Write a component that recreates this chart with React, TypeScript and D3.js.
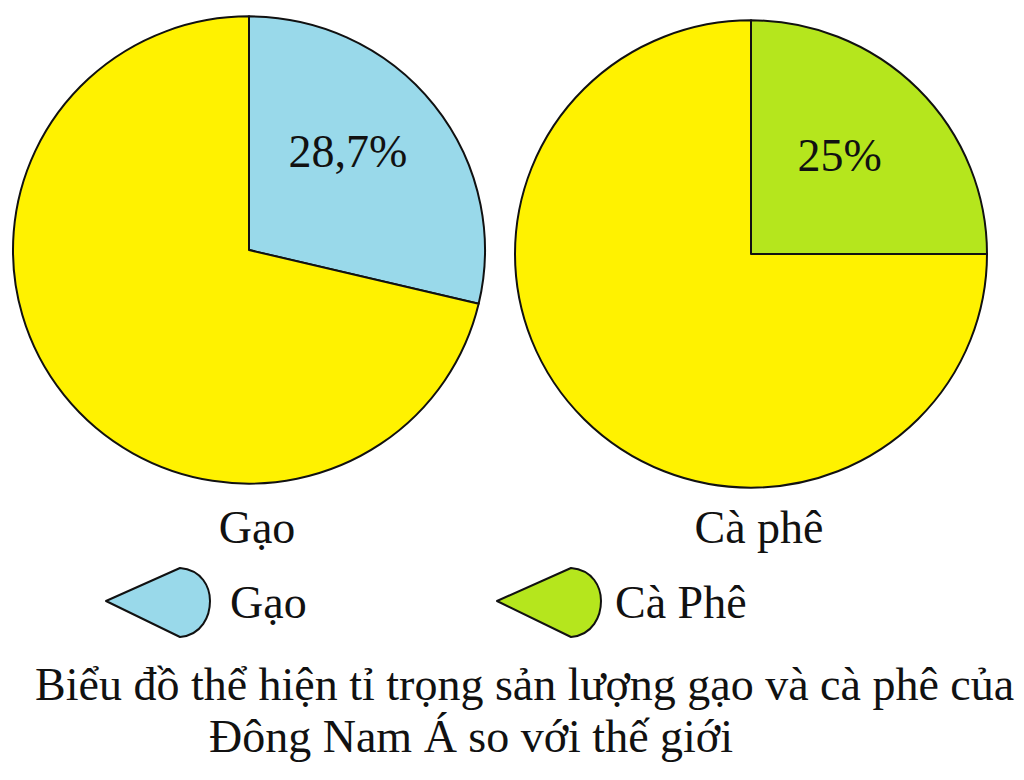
import React from "react";
import * as d3 from "d3";

// ---- data ----
const pieNames = ["Gạo", "Cà phê"];
const shares = [28.7, 25];
const shareLabels = ["28,7%", "25%"];
const legendNames = ["Gạo", "Cà Phê"];
const sliceColors = ["#99D9EA", "#B5E61D"];
const restColor = "#FFF200";
const titleLines = [
  "Biểu đồ thể hiện tỉ trọng sản lượng gạo và cà phê của",
  "Đông Nam Á so với thế giới",
];

const W = 1024;
const H = 780;
const FONT = "'Liberation Serif', 'Times New Roman', serif";

const pieCenters: [number, number][] = [
  [249, 251],
  [751, 255],
];
const R = 236;

const pieGen = d3.pie<number>().sort(null).value((d) => d);
const arcGen = d3.arc<d3.PieArcDatum<number>>().innerRadius(0).outerRadius(R);
const labelArc = d3
  .arc<d3.PieArcDatum<number>>()
  .innerRadius(R * 0.55)
  .outerRadius(R * 0.55);

function markerPath(tx: number, ty: number): string {
  const p = d3.path();
  p.moveTo(tx, ty);
  p.lineTo(tx + 74, ty - 33);
  p.bezierCurveTo(tx + 96, ty - 31, tx + 104, ty - 14, tx + 104, ty);
  p.bezierCurveTo(tx + 104, ty + 15, tx + 96, ty + 34, tx + 74, ty + 36);
  p.closePath();
  return p.toString();
}

const legendTips: [number, number][] = [
  [106, 601],
  [497, 601],
];
const legendTextX = [230, 615];

export default function App() {
  return (
    <svg
      width={W}
      height={H}
      style={{ position: "absolute", left: 0, top: 0, display: "block", background: "#fff" }}
      fontFamily={FONT}
    >
      <rect x={0} y={0} width={W} height={H} fill="#fff" />
      {shares.map((s, i) => {
        const arcs = pieGen([s, 100 - s]);
        const [cx, cy] = pieCenters[i];
        const c = labelArc.centroid(arcs[0]);
        return (
          <g key={i}>
            <g transform={`translate(${cx},${cy - 1}) scale(1,0.99)`}>
              {arcs.map((a, j) => (
                <path
                  key={j}
                  d={arcGen(a) || ""}
                  fill={j === 0 ? sliceColors[i] : restColor}
                  stroke="#111"
                  strokeWidth={2}
                  strokeLinejoin="round"
                />
              ))}
            </g>
            <text
              x={cx + c[0] - 3}
              y={cy - R * 0.42}
              textAnchor="middle"
              dominantBaseline="central"
              fontSize={46}
              fill="#111"
            >
              {shareLabels[i]}
            </text>
            <text x={cx + 8} y={543} textAnchor="middle" fontSize={46} fill="#111">
              {pieNames[i]}
            </text>
          </g>
        );
      })}
      {legendNames.map((n, i) => (
        <g key={n}>
          <path
            d={markerPath(legendTips[i][0], legendTips[i][1])}
            fill={sliceColors[i]}
            stroke="#111"
            strokeWidth={2}
            strokeLinejoin="round"
          />
          <text x={legendTextX[i]} y={618} fontSize={46} fill="#111">
            {n}
          </text>
        </g>
      ))}
      <text x={35} y={700} fontSize={46} fill="#111">
        {titleLines[0]}
      </text>
      <text x={209} y={752} fontSize={46} fill="#111">
        {titleLines[1]}
      </text>
    </svg>
  );
}
